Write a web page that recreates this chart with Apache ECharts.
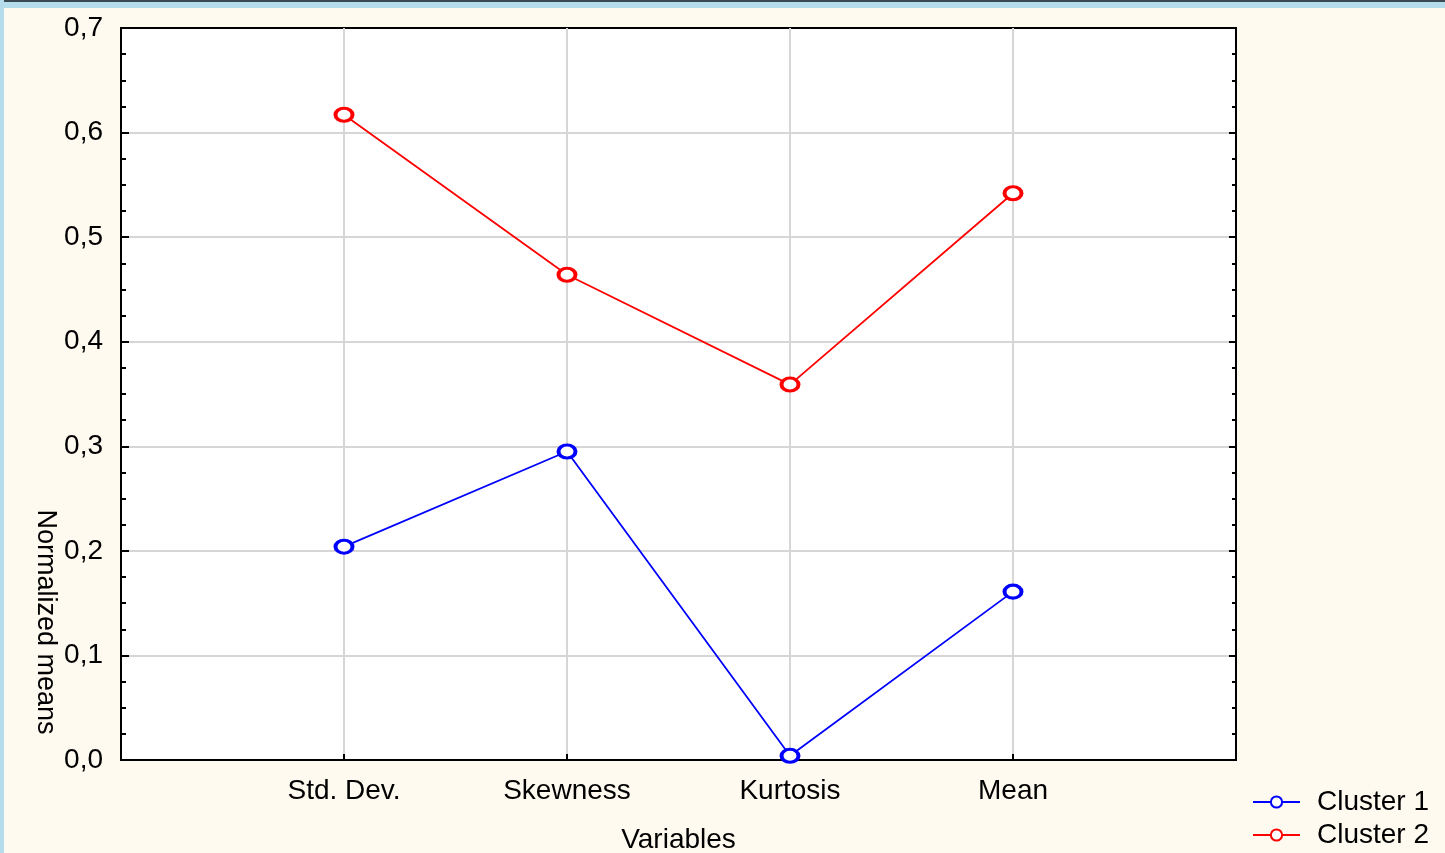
<!DOCTYPE html>
<html>
<head>
<meta charset="utf-8">
<script src="https://cdn.jsdelivr.net/npm/echarts@6/dist/echarts.min.js"></script>
<style>
  html, body { margin: 0; padding: 0; background: #fffaf0; }
  #chart { width: 1445px; height: 853px; }
</style>
</head>
<body>
<div id="chart"></div>
<script>
// Normalized cluster means per variable
const variables = ['Std. Dev.', 'Skewness', 'Kurtosis', 'Mean'];
const cluster1 = [0.204, 0.295, 0.004, 0.161];
const cluster2 = [0.617, 0.464, 0.359, 0.542];
const seriesNames = ['Cluster 1', 'Cluster 2'];
const yMin = 0, yMax = 0.7, yStep = 0.1;

const FONT = '"Liberation Sans", Arial, sans-serif';
const FS = 28;
const chart = echarts.init(document.getElementById('chart'), null, { renderer: 'canvas' });

function points(values) {
  return values.map((v, i) => [i + 1, v]);
}

function lineSeries(name, values, color) {
  return {
    name: name,
    type: 'line',
    data: points(values),
    z: 5,
    symbol: 'circle',
    symbolSize: [17, 13],
    showAllSymbol: true,
    lineStyle: { color: color, width: 1.8 },
    itemStyle: { color: '#fff', borderColor: color, borderWidth: 3.5 },
    emphasis: { disabled: true },
    animation: false
  };
}

const yAxisBase = {
  type: 'value',
  min: yMin,
  max: yMax,
  interval: yStep,
  splitNumber: 7,
  minorTick: { show: true, splitNumber: 4, length: 5, lineStyle: { color: '#000', width: 2 } },
  axisTick: { show: true, inside: true, length: 8, lineStyle: { color: '#000', width: 2 } },
  axisLine: { show: true, lineStyle: { color: '#000', width: 2 } }
};

chart.setOption({
  backgroundColor: '#fffaf0',
  animation: false,
  textStyle: { fontFamily: FONT },
  grid: {
    left: 121, right: 209, top: 28, bottom: 93,
    containLabel: false,
    outerBoundsMode: 'none',
    show: true, backgroundColor: '#ffffff', borderColor: '#000', borderWidth: 2
  },
  graphic: [
    { type: 'rect', shape: { x: 0, y: 0, width: 1445, height: 8 }, style: { fill: '#b5dcea' }, silent: true },
    { type: 'rect', shape: { x: 0, y: 0, width: 1445, height: 2 }, style: { fill: '#3a4a52' }, silent: true },
    { type: 'rect', shape: { x: 0, y: 0, width: 4, height: 853 }, style: { fill: '#b5dcea' }, silent: true },
    {
      type: 'text', x: 45, y: 622, rotation: -Math.PI / 2, silent: true,
      style: {
        text: 'Normalized means', fontSize: 27, fontFamily: FONT, fill: '#000',
        textAlign: 'center', textVerticalAlign: 'middle'
      }
    }
  ],
  legend: {
    data: seriesNames,
    orient: 'vertical',
    left: 1252,
    top: 788,
    padding: 0,
    itemWidth: 47,
    itemHeight: 14,
    itemGap: 5,
    selectedMode: false,
    textStyle: { fontSize: FS, fontFamily: FONT, color: '#000', lineHeight: 28, padding: [0, 0, 0, 12] }
  },
  xAxis: {
    type: 'value',
    min: 0,
    max: variables.length + 1,
    interval: 1,
    name: 'Variables',
    nameLocation: 'middle',
    nameGap: 66,
    nameTextStyle: { fontSize: FS, fontFamily: FONT, color: '#000' },
    axisLine: { show: true, onZero: false, lineStyle: { color: '#000', width: 2 } },
    axisTick: { show: true, inside: true, length: 6, lineStyle: { color: '#000', width: 2 } },
    axisLabel: {
      fontSize: FS, fontFamily: FONT, color: '#000', margin: 17,
      showMinLabel: true, showMaxLabel: true,
      formatter: v => variables[v - 1] || ''
    },
    splitLine: { show: true, showMinLine: false, showMaxLine: false, lineStyle: { color: '#d6d6d6', width: 2 } }
  },
  yAxis: [
    Object.assign({}, yAxisBase, {
      position: 'left',
      axisLabel: {
        fontSize: FS, fontFamily: FONT, color: '#000', margin: 18,
        formatter: v => v.toFixed(1).replace('.', ',')
      },
      splitLine: { show: true, showMinLine: false, showMaxLine: false, lineStyle: { color: '#d6d6d6', width: 2 } }
    }),
    Object.assign({}, yAxisBase, {
      position: 'right',
      axisLabel: { show: false },
      splitLine: { show: false },
      axisTick: { show: true, inside: true, length: 7, lineStyle: { color: '#000', width: 2 } },
      minorTick: { show: true, splitNumber: 4, length: 4, lineStyle: { color: '#000', width: 2 } }
    })
  ],
  series: [
    lineSeries(seriesNames[0], cluster1, '#0000ff'),
    lineSeries(seriesNames[1], cluster2, '#ff0000')
  ]
});
</script>
</body>
</html>
